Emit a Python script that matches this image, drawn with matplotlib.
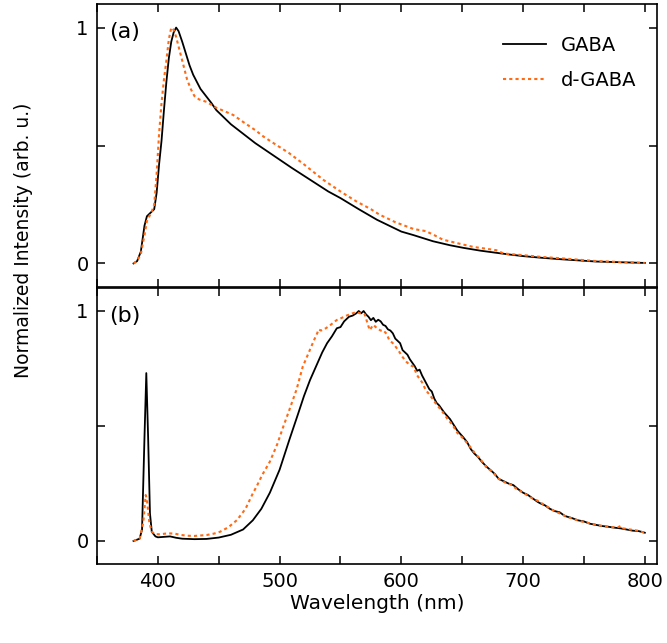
import matplotlib
matplotlib.use("Agg")
import matplotlib.pyplot as plt
from matplotlib.ticker import MultipleLocator, FixedLocator

plt.rcParams['font.family'] = ['DejaVu Sans']

ORANGE = '#ff6a13'

# (a) normalized PL spectra
wl_a_gaba = [380, 383, 386, 389, 391, 393, 395, 397, 399, 401, 403, 405, 407, 409,
             411, 413, 415, 417, 420, 423, 426, 429, 432, 435, 438, 441, 444, 448,
             452, 456, 460, 470, 480, 490, 500, 510, 525, 540, 550, 565, 580, 590,
             600, 610, 626, 640, 651, 665, 678, 690, 700, 715, 733, 745, 760, 780, 800]
int_a_gaba = [0.0, 0.01, 0.05, 0.16, 0.2, 0.21, 0.22, 0.23, 0.3, 0.42, 0.52, 0.65, 0.77, 0.87,
              0.94, 0.98, 1.0, 0.985, 0.94, 0.89, 0.84, 0.8, 0.77, 0.74, 0.72, 0.7, 0.68, 0.65,
              0.63, 0.61, 0.59, 0.55, 0.51, 0.475, 0.44, 0.405, 0.355, 0.305, 0.277, 0.23, 0.185, 0.16,
              0.135, 0.12, 0.094, 0.077, 0.066, 0.054, 0.045, 0.037, 0.031, 0.024, 0.017, 0.013, 0.008, 0.005, 0.002]

wl_a_dgaba = [380, 383, 386, 389, 391, 393, 395, 397, 399, 401, 403, 405, 407, 409,
              411, 413, 415, 418, 421, 424, 427, 430, 434, 440, 448, 455, 462, 470,
              480, 487, 495, 508, 520, 536, 550, 563, 575, 582, 595, 610, 620, 627,
              634, 645, 659, 670, 678, 684, 700, 714, 733, 745, 760, 780, 800]
int_a_dgaba = [0.0, 0.01, 0.04, 0.12, 0.18, 0.2, 0.22, 0.25, 0.38, 0.55, 0.68, 0.78, 0.86, 0.95,
               1.0, 0.99, 0.96, 0.9, 0.84, 0.78, 0.74, 0.71, 0.695, 0.685, 0.66, 0.645, 0.629, 0.6,
               0.565, 0.537, 0.51, 0.467, 0.42, 0.354, 0.305, 0.263, 0.23, 0.207, 0.175, 0.146, 0.137, 0.12,
               0.101, 0.087, 0.07, 0.062, 0.056, 0.042, 0.035, 0.028, 0.021, 0.016, 0.01, 0.006, 0.002]

# (b)
wl_b_gaba = [380, 385, 387, 389, 390.5, 392, 393.5, 395, 398, 400, 405, 410, 415, 420, 430,
             440, 450, 460, 470, 478, 485, 492, 500, 508, 515, 520, 525, 530, 535, 539,
             543, 547, 550, 553, 557, 560, 563, 565, 567, 569, 571, 573, 575, 577, 579,
             581, 583, 585, 587, 589, 591, 593, 595, 597, 599, 601, 603, 605, 607, 609,
             611, 613, 615, 617, 619, 621, 623, 625, 627, 629, 631, 633, 635, 637, 640,
             643, 646, 648, 651, 654, 657, 660, 663, 666, 670, 674, 677, 680, 684, 688,
             692, 696, 700, 704, 708, 712, 714, 718, 722, 726, 730, 734, 736, 740, 745,
             750, 755, 760, 765, 770, 775, 780, 785, 790, 795, 800]
int_b_gaba = [0.0, 0.01, 0.05, 0.45, 0.73, 0.45, 0.12, 0.04, 0.02, 0.016, 0.018, 0.02, 0.014, 0.01, 0.008,
              0.009, 0.015, 0.027, 0.05, 0.09, 0.14, 0.21, 0.31, 0.44, 0.55, 0.63, 0.7, 0.76, 0.82, 0.86,
              0.89, 0.925, 0.93, 0.955, 0.975, 0.98, 0.99, 1.0, 0.99, 1.0, 0.985, 0.975, 0.96, 0.97, 0.953,
              0.962, 0.955, 0.94, 0.935, 0.92, 0.915, 0.903, 0.88, 0.87, 0.86, 0.83, 0.82, 0.81, 0.79, 0.775,
              0.76, 0.74, 0.745, 0.72, 0.7, 0.68, 0.66, 0.65, 0.62, 0.6, 0.59, 0.575, 0.56, 0.548, 0.53,
              0.505, 0.48, 0.468, 0.45, 0.43, 0.4, 0.38, 0.365, 0.345, 0.323, 0.305, 0.29, 0.27, 0.26, 0.25,
              0.243, 0.225, 0.21, 0.2, 0.185, 0.17, 0.164, 0.155, 0.14, 0.13, 0.125, 0.11, 0.106, 0.1, 0.09,
              0.085, 0.075, 0.07, 0.065, 0.062, 0.058, 0.055, 0.05, 0.045, 0.043, 0.036]

wl_b_dgaba = [380, 385, 388, 390, 391, 393, 395, 398, 402, 406, 410, 414, 418, 424, 430,
              440, 446, 451, 458, 465, 472, 478, 481, 486, 492, 498, 503, 508, 514, 519,
              524, 528, 531, 532, 534, 538, 542, 547, 551, 555, 560, 563, 566, 568, 570,
              572, 574, 577, 580, 583, 585, 588, 590, 593, 596, 598, 601, 604, 607, 610,
              613, 617, 620, 624, 628, 631, 634, 638, 642, 646, 650, 655, 660, 665, 670,
              675, 680, 685, 690, 695, 700, 706, 712, 718, 724, 730, 736, 742, 748, 754,
              760, 766, 772, 778, 780, 782, 788, 794, 800]
int_b_dgaba = [0.0, 0.01, 0.08, 0.2, 0.18, 0.08, 0.04, 0.03, 0.029, 0.032, 0.033, 0.032, 0.027, 0.023, 0.022,
               0.026, 0.032, 0.04, 0.06, 0.091, 0.14, 0.207, 0.236, 0.29, 0.345, 0.42, 0.497, 0.57, 0.66, 0.758,
               0.82, 0.87, 0.905, 0.92, 0.915, 0.925, 0.94, 0.961, 0.97, 0.98, 0.99, 0.995, 0.99, 0.99, 0.985,
               0.95, 0.917, 0.94, 0.925, 0.915, 0.917, 0.9, 0.874, 0.86, 0.84, 0.825, 0.8, 0.78, 0.765, 0.758,
               0.72, 0.69, 0.657, 0.63, 0.6, 0.58, 0.56, 0.53, 0.505, 0.47, 0.45, 0.42, 0.385, 0.355, 0.32,
               0.3, 0.27, 0.255, 0.245, 0.225, 0.21, 0.19, 0.175, 0.155, 0.135, 0.12, 0.105, 0.095, 0.085, 0.078,
               0.07, 0.065, 0.06, 0.06, 0.065, 0.055, 0.05, 0.045, 0.036]

W, H = 667, 643
fig = plt.figure(figsize=(W / 100, H / 100), dpi=100)
ax_a = fig.add_axes([97 / W, 1 - 287 / H, 560 / W, 283 / H])
ax_b = fig.add_axes([97 / W, 1 - 564 / H, 560 / W, 276 / H])

for ax in (ax_a, ax_b):
    ax.set_xlim(350, 810)
    ax.set_ylim(-0.1, 1.1)
    ax.xaxis.set_major_locator(MultipleLocator(100))
    ax.xaxis.set_minor_locator(MultipleLocator(50))
    ax.yaxis.set_major_locator(FixedLocator([0, 0.5, 1]))
    ax.set_yticklabels(['0', '', '1'])
    ax.tick_params(which='both', direction='in', top=True, right=True,
                   length=6, width=1.1, labelsize=14, pad=6)
    for s in ax.spines.values():
        s.set_linewidth(1.2)

ax_a.plot(wl_a_gaba, int_a_gaba, color='black', lw=1.3, label='GABA')
ax_a.plot(wl_a_dgaba, int_a_dgaba, color=ORANGE, lw=1.5, ls=(0, (1.5, 1.5)), label='d-GABA')
ax_a.tick_params(labelbottom=False)
ax_a.text(0.022, 0.935, '(a)', transform=ax_a.transAxes, fontsize=16, va='top')
ax_a.legend(loc='upper right', frameon=False, fontsize=14, handlelength=2.2,
            bbox_to_anchor=(0.995, 0.95), labelspacing=0.85)

ax_b.plot(wl_b_gaba, int_b_gaba, color='black', lw=1.3)
ax_b.plot(wl_b_dgaba, int_b_dgaba, color=ORANGE, lw=1.5, ls=(0, (1.5, 1.5)))
ax_b.text(0.022, 0.935, '(b)', transform=ax_b.transAxes, fontsize=16, va='top')
ax_b.set_xlabel('Wavelength (nm)', fontsize=14.5, labelpad=2)

fig.text(24 / W, 1 - 240 / H, 'Normalized Intensity (arb. u.)', rotation=90,
         ha='center', va='center', fontsize=13.5)

fig.savefig('out.png', dpi=100)
